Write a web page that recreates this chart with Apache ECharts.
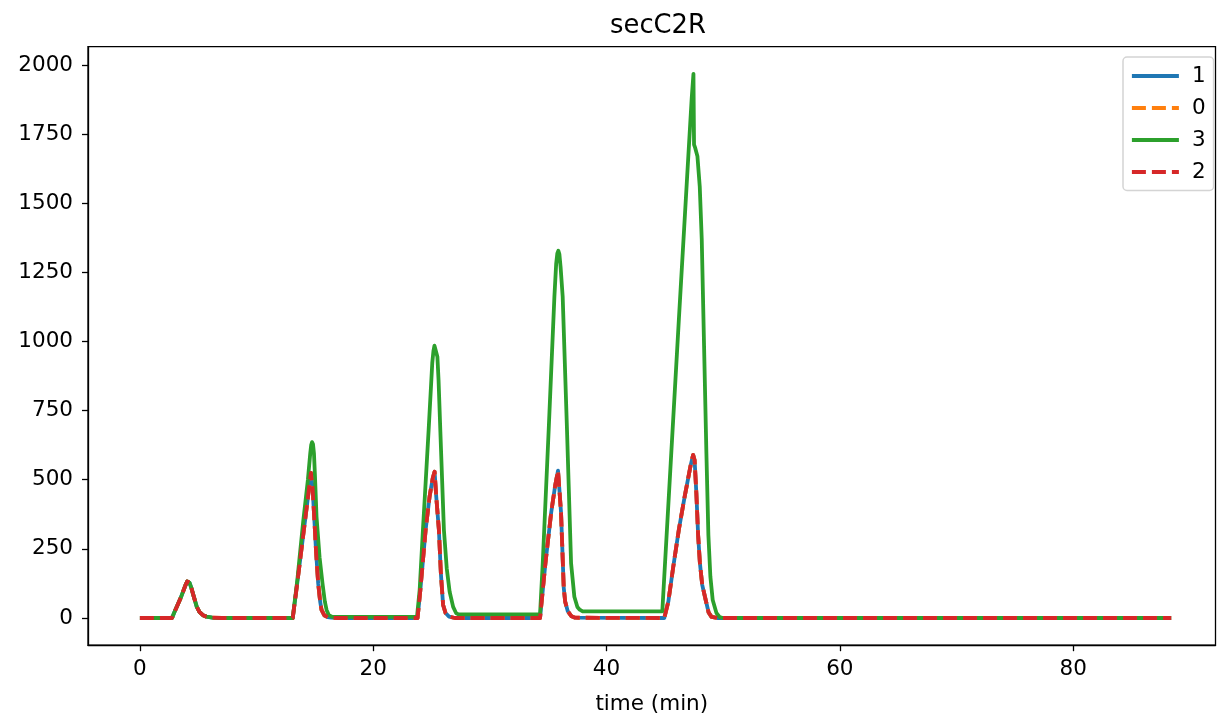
<!DOCTYPE html>
<html>
<head>
<meta charset="utf-8">
<script src="https://cdn.jsdelivr.net/npm/echarts@6/dist/echarts.min.js"></script>
<style>
html,body{margin:0;padding:0;background:#fff;}
#chart{width:1217px;height:721px;}
</style>
</head>
<body>
<div id="chart"></div>
<script>
// ---- data ----
const titleText = 'secC2R';
const xName = 'time (min)';
const xTicks = [0, 20, 40, 60, 80];
const yTicks = [0, 250, 500, 750, 1000, 1250, 1500, 1750, 2000];
const seriesNames = ['1', '0', '3', '2'];

// series 1, 0 and 2 (identical traces)
const timeA = [0, 2.75, 3.0, 3.5, 3.9, 4.05, 4.14, 4.25, 4.4, 4.6, 4.87, 5.1, 5.4, 5.7, 6.2, 7.0,
  13.1, 13.5, 14.0, 14.4, 14.55, 14.66, 14.8, 14.94, 15.1, 15.28, 15.45, 15.57, 15.8, 16.1, 16.4, 17.0,
  23.8, 24.04, 24.49, 24.83, 25.1, 25.26, 25.4, 25.63, 25.8, 25.99, 26.2, 26.5, 27.0,
  34.3, 34.76, 35.25, 35.6, 35.84, 35.95, 36.1, 36.33, 36.45, 36.67, 37.0, 37.3,
  44.95, 45.3, 45.7, 46.2, 46.7, 47.2, 47.42, 47.55, 47.7, 47.85, 48.0, 48.2, 48.5, 48.75, 49.0, 49.5,
  88.4];
const valsA = [0, 0, 25, 73, 118, 132, 138, 128, 110, 80, 41, 22, 10, 5, 1.5, 0,
  0, 130, 300, 435, 490, 525, 470, 366, 240, 126, 60, 29, 10, 3, 1, 0,
  0, 101, 318, 439, 505, 529, 440, 318, 160, 47, 18, 5, 0,
  0, 198, 380, 480, 533, 470, 380, 110, 60, 25, 6, 1,
  0, 60, 180, 320, 440, 550, 590, 570, 450, 300, 200, 120, 65, 20, 4, 0,
  0];

// series 3
const timeB = [0, 2.75, 3.0, 3.5, 3.9, 4.05, 4.14, 4.25, 4.4, 4.6, 4.87, 5.1, 5.4, 5.7, 6.2, 7.0,
  13.1, 13.5, 14.0, 14.4, 14.6, 14.68, 14.76, 14.84, 14.92, 15.0, 15.14, 15.4, 15.65, 15.85, 16.0, 16.2, 16.5,
  23.75, 23.98, 24.26, 24.75, 25.06, 25.16, 25.25, 25.32, 25.4, 25.5, 25.6, 25.75, 26.06, 26.3, 26.55, 26.85, 27.1, 27.3,
  34.3, 34.53, 35.04, 35.53, 35.68, 35.78, 35.87, 35.96, 36.06, 36.24, 36.61, 36.96, 37.24, 37.5, 37.7, 37.95,
  44.78, 45.5, 46.2, 46.9, 47.3, 47.45, 47.5, 47.6, 47.79, 47.99, 48.16, 48.36, 48.56, 48.73, 48.9, 49.1, 49.42, 49.7, 50.0,
  88.4];
const valsB = [0, 0, 25, 73, 118, 132, 138, 128, 110, 80, 41, 22, 10, 5, 1.5, 0,
  0, 140, 350, 500, 595, 625, 636, 628, 595, 520, 366, 220, 126, 60, 29, 10, 4,
  4, 101, 318, 680, 922, 965, 985, 991, 982, 945, 860, 680, 318, 180, 95, 40, 18, 13,
  13, 198, 680, 1162, 1280, 1318, 1328, 1315, 1270, 1162, 680, 198, 77, 40, 30, 24,
  24, 560, 1080, 1590, 1880, 1968, 1712, 1700, 1670, 1560, 1371, 983, 595, 300, 150, 65, 18, 3, 0,
  0];

const colors = {'1': '#1f77b4', '0': '#ff7f0e', '3': '#2ca02c', '2': '#d62728'};
const dashed = {'1': false, '0': true, '3': false, '2': true};

function pairs(t, v) { return t.map((x, i) => [x, v[i]]); }

const chart = echarts.init(document.getElementById('chart'), null, {renderer: 'canvas'});
const font = 'DejaVu Sans';
const fs = 21.5;

const series = seriesNames.map(name => ({
  name: name,
  type: 'line',
  data: name === '3' ? pairs(timeB, valsB) : pairs(timeA, valsA),
  symbol: 'none',
  showSymbol: false,
  smooth: false,
  itemStyle: {color: colors[name]},
  lineStyle: {
    color: colors[name],
    width: 3.8,
    type: dashed[name] ? [14, 6] : 'solid',
    cap: 'butt',
    join: 'round'
  },
  emphasis: {disabled: true},
  animation: false
}));

chart.setOption({
  animation: false,
  backgroundColor: '#ffffff',
  title: {
    text: titleText,
    left: 653,
    textAlign: 'center',
    top: 8,
    textStyle: {fontFamily: font, fontSize: 25.8, fontWeight: 'normal', color: '#000'}
  },
  legend: {
    data: seriesNames,
    orient: 'vertical',
    left: 1123,
    top: 57,
    itemWidth: 47,
    itemHeight: 14,
    itemGap: 10,
    padding: [8, 8, 7.5, 7],
    borderColor: '#d4d4d4',
    borderWidth: 1.5,
    borderRadius: 4,
    backgroundColor: 'rgba(255,255,255,0.8)',
    itemStyle: {opacity: 0, borderWidth: 0},
    lineStyle: {width: 3.8},
    textStyle: {fontFamily: font, fontSize: fs, color: '#000', lineHeight: 20, padding: [0, 0, 0, 8]},
    selectedMode: false
  },
  grid: {
    left: 88, right: 1.5, top: 46.6, bottom: 75.8,
    show: true, borderColor: '#000', borderWidth: 1.3, backgroundColor: 'transparent',
    containLabel: false
  },
  xAxis: {
    type: 'value',
    min: -4.45,
    max: 92.2,
    name: xName,
    nameLocation: 'middle',
    nameGap: 48,
    nameTextStyle: {fontFamily: font, fontSize: fs, color: '#000'},
    axisLine: {show: true, onZero: false, lineStyle: {color: '#000', width: 1.3}},
    axisTick: {show: true, length: 6, customValues: xTicks, lineStyle: {color: '#000', width: 1.3}},
    axisLabel: {show: true, customValues: xTicks, margin: 13, fontFamily: font, fontSize: fs, color: '#000',
      formatter: v => String(v)},
    splitLine: {show: false}
  },
  yAxis: {
    type: 'value',
    min: -98.4,
    max: 2066.4,
    axisLine: {show: true, onZero: false, lineStyle: {color: '#000', width: 1.3}},
    axisTick: {show: true, length: 6, customValues: yTicks, lineStyle: {color: '#000', width: 1.3}},
    axisLabel: {show: true, customValues: yTicks, margin: 15, fontFamily: font, fontSize: fs, color: '#000',
      formatter: v => String(v)},
    splitLine: {show: false}
  },
  series: series
});
</script>
</body>
</html>
